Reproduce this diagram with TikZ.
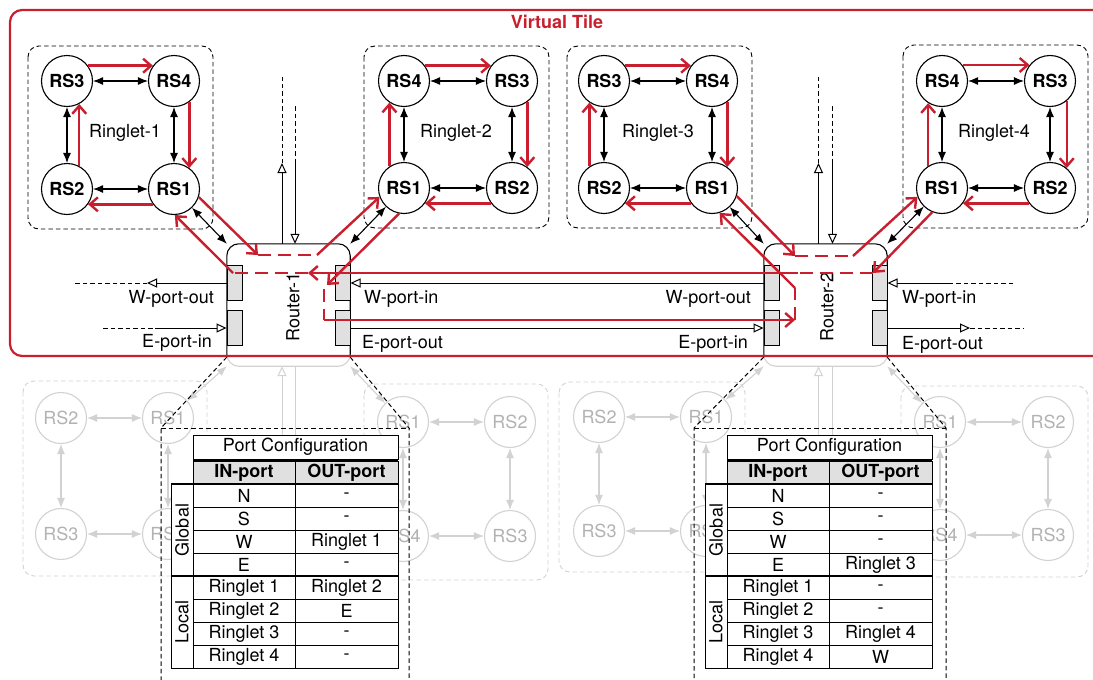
\documentclass[tikz,border=0pt]{standalone}
\usepackage{fontspec}
\setmainfont{TeX Gyre Heros}
\usetikzlibrary{arrows.meta, positioning, calc}
\definecolor{tilered}{RGB}{200,30,45}
\definecolor{portgray}{RGB}{224,224,224}
\definecolor{ghostgray}{RGB}{210,210,210}
\newcommand{\figfont}{\fontsize{18}{21}\selectfont}

\begin{document}
\begin{tikzpicture}[x=1pt, y=-1pt, font=\figfont,
  rs/.style={circle, draw, line width=1.1pt, minimum size=51pt, inner sep=0pt, font=\figfont\bfseries},
  ghost/.style={circle, draw=ghostgray, text=black!30, line width=1.1pt, minimum size=51pt, inner sep=0pt},
  ringbox/.style={draw, line width=0.9pt, dash pattern=on 4.5pt off 3pt, rounded corners=11pt},
  ghostbox/.style={ringbox, draw=ghostgray},
  biarrow/.style={{Latex[length=10pt,width=8pt]}-{Latex[length=10pt,width=8pt]}, line width=1.1pt},
  ghostarrow/.style={biarrow, draw=ghostgray},
  ring/.style={draw=tilered, line width=2.4pt, -{Straight Barb[length=8pt,width=14pt]}},
  ringdash/.style={draw=tilered, line width=2.4pt, dash pattern=on 13pt off 7pt},
  link/.style={line width=1pt, -{Triangle[open,length=10pt,width=9pt]}},
  linkdash/.style={line width=1pt, dash pattern=on 4.5pt off 3pt},
  router/.style={minimum width=123pt, minimum height=122pt, inner sep=0pt},
  routerline/.style={line width=1.1pt, rounded corners=12pt},
  port/.style={draw, fill=portgray, line width=1pt, minimum width=15pt, minimum height=35pt, inner sep=0pt},
  portlabel/.style={inner sep=1pt},
  cell/.style={draw, fill=white, line width=1pt, minimum height=23pt, inner sep=0pt},
  head/.style={cell, fill=portgray, font=\figfont\bfseries},
  thickrule/.style={line width=2.8pt}]
\useasboundingbox (0,0) rectangle (1093,680);
\clip (0,0) rectangle (1093,680);

% routers (anchors only, outlines drawn below)
\node[router] (r1) at (288.5,305) {};
\node[router] (r2) at (825.5,305) {};

% lower tile, faded
\draw[ghostbox] (23,381) rectangle (207,576);
\draw[ghostbox] (364,384) rectangle (548,580);
\draw[ghostbox] (559,382) rectangle (745,572);
\draw[ghostbox] (901,386) rectangle (1088,577);
\node[ghost] (g1-rs2) at (61,418) {RS2};
\node[ghost] (g1-rs1) at (168,418) {RS1};
\node[ghost] (g1-rs3) at (61,534) {RS3};
\node[ghost] (g1-rs4) at (168,534) {RS4};
\node[ghost] (g2-rs1) at (403,422) {RS1};
\node[ghost] (g2-rs2) at (510,422) {RS2};
\node[ghost] (g2-rs4) at (403,536) {RS4};
\node[ghost] (g2-rs3) at (510,536) {RS3};
\node[ghost] (g3-rs2) at (599,417) {RS2};
\node[ghost] (g3-rs1) at (706,417) {RS1};
\node[ghost] (g3-rs3) at (599,531) {RS3};
\node[ghost] (g3-rs4) at (706,531) {RS4};
\node[ghost] (g4-rs1) at (940,422) {RS1};
\node[ghost] (g4-rs2) at (1048,422) {RS2};
\node[ghost] (g4-rs4) at (940,535) {RS4};
\node[ghost] (g4-rs3) at (1048,535) {RS3};
\foreach \k in {1,...,4}
  \foreach \a/\b in {1/2,2/3,3/4,4/1}
    \draw[ghostarrow] (g\k-rs\a) -- (g\k-rs\b);
\draw[ghostarrow] (r1.south west) -- (g1-rs1);
\draw[ghostarrow] (r1.south east) -- (g2-rs1);
\draw[ghostarrow] (r2.south west) -- (g3-rs1);
\draw[ghostarrow] (r2.south east) -- (g4-rs1);
\coordinate (s1o) at (282,436);
\coordinate (s1i) at (295,436);
\coordinate (s2o) at (818.5,436);
\coordinate (s2i) at (832.5,436);
\draw[link, draw=ghostgray] (s1o) -- ([xshift=-6.5pt]r1.south);
\draw[line width=1pt, draw=ghostgray] ([xshift=6.5pt]r1.south) -- (s1i);
\draw[link, draw=ghostgray] (s2o) -- ([xshift=-7pt]r2.south);
\draw[line width=1pt, draw=ghostgray] ([xshift=7pt]r2.south) -- (s2i);

% router outlines
\begin{scope}
  \clip (0,0) rectangle (1093,356);
  \draw[routerline] (r1.north west) rectangle (r1.south east);
  \draw[routerline] (r2.north west) rectangle (r2.south east);
\end{scope}
\begin{scope}
  \clip (0,356) rectangle (1093,400);
  \draw[routerline, draw=ghostgray] (r1.north west) rectangle (r1.south east);
  \draw[routerline, draw=ghostgray] (r2.north west) rectangle (r2.south east);
\end{scope}
\node[rotate=90] (r1lab) at (293,307) {Router-1};
\node[rotate=90] (r2lab) at (827,307) {Router-2};

% ports
\node[port] (r1wo) at (234.5,283) {};
\node[port] (r1ei) at (234.5,328) {};
\node[port] (r1wi) at (342.5,283) {};
\node[port] (r1eo) at (342.5,328) {};
\node[port] (r2wo) at (771.5,283) {};
\node[port] (r2ei) at (771.5,328) {};
\node[port] (r2wi) at (879.5,283) {};
\node[port] (r2eo) at (879.5,328) {};

% port links
\coordinate (w1tip) at (147,283);
\coordinate (w1end) at (72,283);
\coordinate (e1start) at (103,328);
\coordinate (e1mid) at (155,328);
\coordinate (w2start) at (1013,283);
\coordinate (w2mid) at (952,283);
\coordinate (e2tip) at (970,328);
\coordinate (e2end) at (1023,328);
\draw[link] (r1wo.west) -- (w1tip);
\draw[linkdash] (w1tip) -- (w1end);
\draw[linkdash] (e1start) -- (e1mid);
\draw[link] (e1mid) -- (r1ei.west);
\draw[link] (r2wo.west) -- (r1wi.east);
\draw[link] (r1eo.east) -- (r2ei.west);
\draw[linkdash] (w2start) -- (w2mid);
\draw[link] (w2mid) -- (r2wi.east);
\draw[link] (r2eo.east) -- (e2tip);
\draw[linkdash] (e2tip) -- (e2end);
\node[portlabel, anchor=east] (r1wolab) at (215,299) {W-port-out};
\node[portlabel, anchor=east] (r1eilab) at (213,343) {E-port-in};
\node[portlabel, anchor=west] (r1wilab) at (363,299) {W-port-in};
\node[portlabel, anchor=west] (r1eolab) at (361,344) {E-port-out};
\node[portlabel, anchor=east] (r2wolab) at (752,299) {W-port-out};
\node[portlabel, anchor=east] (r2eilab) at (749,344) {E-port-in};
\node[portlabel, anchor=west] (r2wilab) at (901,299) {W-port-in};
\node[portlabel, anchor=west] (r2eolab) at (901,345) {E-port-out};

% north ports
\coordinate (n1o) at (282,163);
\coordinate (n1oend) at (282,77);
\coordinate (n1istart) at (295,106);
\coordinate (n1i) at (295,163);
\coordinate (n2o) at (818.5,163);
\coordinate (n2oend) at (818.5,77);
\coordinate (n2istart) at (832.5,106);
\coordinate (n2i) at (832.5,163);
\draw[link] ([xshift=-6.5pt]r1.north) -- (n1o);
\draw[linkdash] (n1o) -- (n1oend);
\draw[linkdash] (n1istart) -- (n1i);
\draw[link] (n1i) -- ([xshift=6.5pt]r1.north);
\draw[link] ([xshift=-7pt]r2.north) -- (n2o);
\draw[linkdash] (n2o) -- (n2oend);
\draw[linkdash] (n2istart) -- (n2i);
\draw[link] (n2i) -- ([xshift=7pt]r2.north);

% ringlets
\draw[ringbox] (28,46) rectangle (213,229);
\draw[ringbox] (364,46) rectangle (549,228);
\draw[ringbox] (567,46) rectangle (752,228);
\draw[ringbox] (903,45) rectangle (1088,228);
\node (rl1lab) at (125,133) {Ringlet-1};
\node (rl2lab) at (456,133) {Ringlet-2};
\node (rl3lab) at (658,133) {Ringlet-3};
\node (rl4lab) at (994,133) {Ringlet-4};
\node[rs] (rl1-rs3) at (67,81) {RS3};
\node[rs] (rl1-rs4) at (174,81) {RS4};
\node[rs] (rl1-rs2) at (67,189) {RS2};
\node[rs] (rl1-rs1) at (174,189) {RS1};
\node[rs] (rl2-rs4) at (404,81) {RS4};
\node[rs] (rl2-rs3) at (512,81) {RS3};
\node[rs] (rl2-rs1) at (404,188) {RS1};
\node[rs] (rl2-rs2) at (512,188) {RS2};
\node[rs] (rl3-rs3) at (604,81) {RS3};
\node[rs] (rl3-rs4) at (712,81) {RS4};
\node[rs] (rl3-rs2) at (604,188) {RS2};
\node[rs] (rl3-rs1) at (712,188) {RS1};
\node[rs] (rl4-rs4) at (942,81) {RS4};
\node[rs] (rl4-rs3) at (1050,81) {RS3};
\node[rs] (rl4-rs1) at (942,188) {RS1};
\node[rs] (rl4-rs2) at (1050,188) {RS2};
\foreach \k in {1,...,4}
  \foreach \a/\b in {1/2,2/3,3/4,4/1}
    \draw[biarrow] (rl\k-rs\a) -- (rl\k-rs\b);
\draw[biarrow] (rl1-rs1) -- (r1.north west);
\draw[biarrow] (rl2-rs1) -- (r1.north east);
\draw[biarrow] (rl3-rs1) -- (r2.north west);
\draw[biarrow] (rl4-rs1) -- (r2.north east);

% ring traffic
\draw[ring] (rl1-rs3.36) -- (rl1-rs4.144);
\draw[ring] (rl1-rs4.-54) -- (rl1-rs1.54);
\draw[ring] (rl1-rs1.-144) -- (rl1-rs2.-36);
\draw[ring] (rl1-rs2.62) -- (rl1-rs3.-62);
\draw[ring] (rl2-rs4.36) -- (rl2-rs3.144);
\draw[ring] (rl2-rs3.-54) -- (rl2-rs2.54);
\draw[ring] (rl2-rs2.-144) -- (rl2-rs1.-36);
\draw[ring] (rl2-rs1.124) -- (rl2-rs4.-124);
\draw[ring] (rl3-rs3.36) -- (rl3-rs4.144);
\draw[ring] (rl3-rs4.-54) -- (rl3-rs1.54);
\draw[ring] (rl3-rs1.-144) -- (rl3-rs2.-36);
\draw[ring] (rl3-rs2.124) -- (rl3-rs3.-124);
\draw[ring] (rl4-rs4.38) -- (rl4-rs3.142);
\draw[ring] (rl4-rs3.-50) -- (rl4-rs2.50);
\draw[ring] (rl4-rs2.-144) -- (rl4-rs1.-36);
\draw[ring] (rl4-rs1.122) -- (rl4-rs4.-122);

% routes through the routers
\coordinate (r1a) at (258,255);
\coordinate (r1b) at (317,255);
\coordinate (r1c) at (308,273);
\coordinate (r1d) at (233,273);
\coordinate (r1e) at (327,285);
\coordinate (r1f) at (324,289);
\coordinate (r1g) at (324,320);
\coordinate (r2a) at (795,256);
\coordinate (r2b) at (853,256);
\coordinate (r2c) at (873,273);
\coordinate (r2d) at (798,273);
\coordinate (r2e) at (795,320);
\coordinate (r2f) at (795,288);
\draw[ring] (rl1-rs1.-18) -- (r1a);
\draw[ringdash] (r1a) -- (r1b);
\draw[ring] (r1b) -- (rl2-rs1.200);
\draw[ring] (rl2-rs1.-101) -- (r1e);
\draw[ringdash] (r1f) -- (r1g);
\draw[ring] (r1g) -- (r2e);
\draw[ringdash] (r2e) -- (r2f);
\draw[ring] (r2f) -- (rl3-rs1.-73);
\draw[ring] (rl3-rs1.-18) -- (r2a);
\draw[ringdash] (r2a) -- (r2b);
\draw[ring] (r2b) -- (rl4-rs1.200);
\draw[ring] (rl4-rs1.-112) -- (r2c);
\draw[ringdash] (r2c) -- (r2d);
\draw[ring] (r2d) -- (r1c);
\draw[ringdash] (r1c) -- (r1d);
\draw[ring] (r1d) -- (rl1-rs1.-88);

% virtual tile
\node[draw=tilered, line width=2.2pt, rounded corners=12pt, minimum width=1110pt, minimum height=346pt, inner sep=0pt] (tile) at (565,183) {};
\node[text=tilered, font=\figfont\bfseries] (tilelab) at (557,22) {Virtual Tile};

% zoom-in callouts
\coordinate (z1nw) at (161,428);
\coordinate (z1ne) at (409,428);
\coordinate (z2nw) at (694,428);
\coordinate (z2ne) at (946,428);
\draw[linkdash] (r1.west |- tile.south) -- (z1nw) -- (161,690);
\draw[linkdash] (r1.east |- tile.south) -- (z1ne) -- (409,690);
\draw[linkdash] (z1nw) -- (z1ne);
\draw[linkdash] (r2.west |- tile.south) -- (z2nw) -- (694,690);
\draw[linkdash] (r2.east |- tile.south) -- (z2ne) -- (946,690);
\draw[linkdash] (z2nw) -- (z2ne);

% configuration of Router-1
\node[cell, minimum width=205pt, minimum height=24pt] (cfg1-title) at (295.5,447) {Port Configuration};
\node[head, minimum width=102pt] (cfg1-in) at (244,472.5) {IN-port};
\node[head, minimum width=103pt] (cfg1-out) at (346.5,472.5) {OUT-port};
\foreach \inp/\outp [count=\i] in {N/-, S/-, W/Ringlet 1, E/-, Ringlet 1/Ringlet 2, Ringlet 2/E, Ringlet 3/-, Ringlet 4/-} {
  \node[cell, minimum width=102pt] (cfg1-in\i) at (244,{472.5+23*\i}) {\inp};
  \node[cell, minimum width=103pt] (cfg1-out\i) at (346.5,{472.5+23*\i}) {\outp};
}
\node[cell, rotate=90, minimum width=92pt, minimum height=22pt] (cfg1-global) at (182,530) {Global};
\node[cell, rotate=90, minimum width=92pt, minimum height=22pt] (cfg1-local) at (182,622) {Local};
\draw[thickrule] (193,460) -- (398,460);
\draw[thickrule] (171,484) -- (398,484);
\draw[thickrule] (171,576) -- (398,576);

% configuration of Router-2
\begin{scope}[xshift=534pt]
\node[cell, minimum width=205pt, minimum height=24pt] (cfg2-title) at (295.5,447) {Port Configuration};
\node[head, minimum width=102pt] (cfg2-in) at (244,472.5) {IN-port};
\node[head, minimum width=103pt] (cfg2-out) at (346.5,472.5) {OUT-port};
\foreach \inp/\outp [count=\i] in {N/-, S/-, W/-, E/Ringlet 3, Ringlet 1/-, Ringlet 2/-, Ringlet 3/Ringlet 4, Ringlet 4/W} {
  \node[cell, minimum width=102pt] (cfg2-in\i) at (244,{472.5+23*\i}) {\inp};
  \node[cell, minimum width=103pt] (cfg2-out\i) at (346.5,{472.5+23*\i}) {\outp};
}
\node[cell, rotate=90, minimum width=92pt, minimum height=22pt] (cfg2-global) at (182,530) {Global};
\node[cell, rotate=90, minimum width=92pt, minimum height=22pt] (cfg2-local) at (182,622) {Local};
\draw[thickrule] (193,460) -- (398,460);
\draw[thickrule] (171,484) -- (398,484);
\draw[thickrule] (171,576) -- (398,576);
\end{scope}
\end{tikzpicture}
\end{document}
